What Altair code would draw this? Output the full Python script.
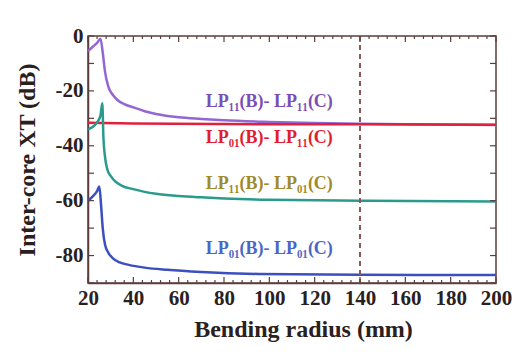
import altair as alt
import pandas as pd

# ---- data ----
r_11_11 = [20, 22, 24, 25.5, 26.5, 27.5, 29, 31, 33, 36, 40, 45, 50, 60, 70, 80, 100, 120, 140, 160, 200]
xt_11_11 = [-5.5, -4.0, -2.5, -1.0, -6.0, -13.0, -18.5, -21.5, -23.3, -24.8, -26.0, -27.4, -28.4, -29.6, -30.2, -30.7, -31.3, -31.7, -32.0, -32.2, -32.4]

r_01_11 = [20, 40, 80, 140, 200]
xt_01_11 = [-31.6, -31.9, -32.1, -32.2, -32.3]

r_11_01 = [20, 22, 24, 25.5, 26.3, 26.8, 27.5, 28.5, 30, 32, 35, 40, 45, 50, 60, 70, 80, 100, 140, 200]
xt_11_01 = [-34.0, -33.2, -31.5, -29.0, -24.5, -37.0, -44.0, -48.5, -51.0, -53.0, -54.6, -55.8, -56.8, -57.5, -58.3, -58.8, -59.2, -59.7, -60.0, -60.3]

r_01_01 = [20, 22, 24, 25, 25.8, 26.5, 27.5, 29, 31, 34, 38, 45, 55, 70, 95, 140, 200]
xt_01_01 = [-60.0, -58.5, -56.5, -54.8, -62.0, -70.0, -76.0, -79.0, -81.0, -82.5, -83.4, -84.4, -85.2, -86.0, -86.7, -87.0, -87.1]

series_names = ["11-11", "01-11", "11-01", "01-01"]
series_colors = ["#9466d4", "#e0203c", "#2a9a8c", "#3c4fc0"]

label_text = ["LP\u2081\u2081(B)- LP\u2081\u2081(C)", "LP\u2080\u2081(B)- LP\u2081\u2081(C)",
              "LP\u2081\u2081(B)- LP\u2080\u2081(C)", "LP\u2080\u2081(B)- LP\u2080\u2081(C)"]
label_x = [100, 100, 100, 100]
label_y = [-24.0, -37.0, -54.0, -77.5]
label_colors = ["#7a4fb5", "#e01e2e", "#a08a2a", "#4a66c6"]

x_ticks = [20, 40, 60, 80, 100, 120, 140, 160, 180, 200]
y_ticks = [0, -20, -40, -60, -80]
x_minor = [v for v in range(24, 200, 4) if v % 20 != 0]
y_minor = [-10, -30, -50, -70, -90]
marker_r = [140]

W, H = 408, 247
FRAME = "#5c3d3d"
FONT = "Liberation Serif, DejaVu Serif, serif"
TXT = "#2a2020"

rows = []
for name, rs, ys_ in zip(series_names, [r_11_11, r_01_11, r_11_01, r_01_01],
                         [xt_11_11, xt_01_11, xt_11_01, xt_01_01]):
    for r, y in zip(rs, ys_):
        rows.append({"r": r, "xt": y, "s": name})
df = pd.DataFrame(rows)

xs = alt.Scale(domain=[20, 200], nice=False, zero=False)
ys = alt.Scale(domain=[-90, 0], nice=False, zero=False)

common = dict(labelFlush=False, labelFont=FONT, labelFontSize=21, labelFontWeight="bold",
              labelColor=TXT, titleFont=FONT, titleFontSize=24, titleFontWeight="bold",
              titleColor=TXT, labelExpr="toString(datum.value)", grid=False, ticks=False,
              domainColor=FRAME, domainWidth=1.5, labelOverlap=False)
x_axis = alt.Axis(values=x_ticks, title="Bending radius (mm)", labelPadding=4,
                  titleX=W / 2 + 11, titleY=46, titleBaseline="middle", **common)
y_axis = alt.Axis(values=y_ticks, title="Inter-core XT (dB)", labelPadding=5,
                  titleX=-61, titleY=H / 2, titleBaseline="middle", **common)


def X(field):
    return alt.X(field, scale=xs, axis=x_axis, title="Bending radius (mm)")


def Y(field):
    return alt.Y(field, scale=ys, axis=y_axis, title="Inter-core XT (dB)")


lines = alt.Chart(df).mark_line(strokeWidth=2.5, interpolate="monotone").encode(
    x=X("r:Q"),
    y=Y("xt:Q"),
    color=alt.Color("s:N", scale=alt.Scale(domain=series_names, range=series_colors), legend=None),
    detail="s:N",
)

marker = alt.Chart(pd.DataFrame({"r": marker_r})).mark_rule(
    color="#8a5858", strokeWidth=2, strokeDash=[5, 4]).encode(x=X("r:Q"))


def ticks(vals, orient, length):
    base = alt.Chart(pd.DataFrame({"v": vals})).mark_rule(color=FRAME, strokeWidth=1.2)
    if orient == "bottom":
        return base.encode(x=X("v:Q"), y=alt.value(H), y2=alt.value(H - length))
    if orient == "top":
        return base.encode(x=X("v:Q"), y=alt.value(0), y2=alt.value(length))
    if orient == "left":
        return base.encode(y=Y("v:Q"), x=alt.value(0), x2=alt.value(length))
    return base.encode(y=Y("v:Q"), x=alt.value(W), x2=alt.value(W - length))


tick_layers = [
    ticks(x_ticks, "bottom", 6), ticks(x_minor, "bottom", 3),
    ticks(x_ticks, "top", 6), ticks(x_minor, "top", 3),
    ticks(y_ticks, "left", 6), ticks(y_minor, "left", 6),
    ticks(y_ticks, "right", 6), ticks(y_minor, "right", 6),
]

texts = []
for t, lx, ly, c in zip(label_text, label_x, label_y, label_colors):
    texts.append(
        alt.Chart(pd.DataFrame({"t": [t], "x": [lx], "y": [ly]})).mark_text(
            font=FONT, fontSize=18, fontWeight="bold", color=c, align="center", baseline="middle"
        ).encode(x=X("x:Q"), y=Y("y:Q"), text="t:N")
    )

chart = alt.layer(lines, marker, *tick_layers, *texts).properties(
    width=W, height=H,
    autosize=alt.AutoSizeParams(type="none"),
    padding={"left": 88, "top": 36, "right": 24, "bottom": 70},
    background="white",
).configure_view(stroke=FRAME, strokeWidth=1.5)

chart.save("out.html", embed_options={"renderer": "svg", "actions": False})
